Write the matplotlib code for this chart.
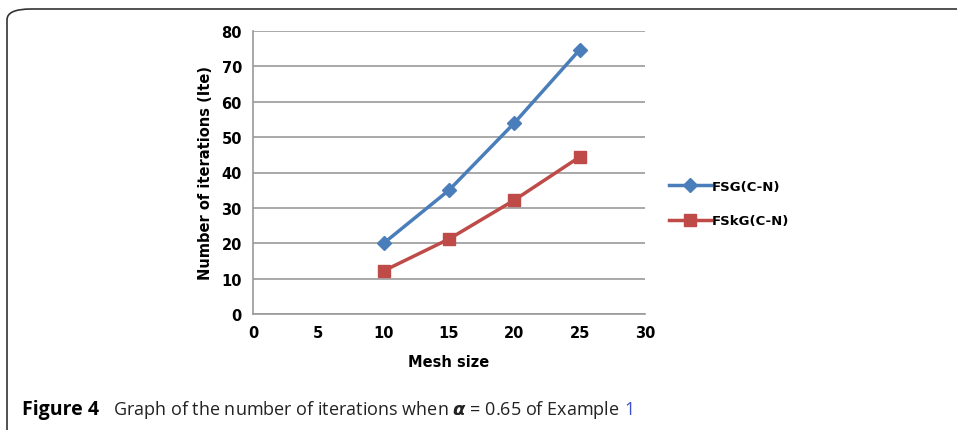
import matplotlib.pyplot as plt
from matplotlib.patches import FancyBboxPatch

# iterations vs mesh size, alpha = 0.65
mesh = [10, 15, 20, 25]
fsg = [20, 35, 54, 74.7]
fskg = [12.2, 21.2, 32.2, 44.4]
xticks = [0, 5, 10, 15, 20, 25, 30]
yticks = [0, 10, 20, 30, 40, 50, 60, 70, 80]

fig = plt.figure(figsize=(9.57, 4.31), dpi=100)

# rounded frame around the figure panel
frame = FancyBboxPatch((7 / 957, -20 / 431), 1.2, (421 + 20) / 431,
                       boxstyle="round,pad=0,rounding_size=0.025",
                       transform=fig.transFigure, fill=False,
                       edgecolor="#333333", linewidth=1.2, clip_on=False)
fig.patches.append(frame)

ax = fig.add_axes([253 / 957, 1 - 315 / 431, (645 - 253) / 957, (315 - 32) / 431])
ax.plot(mesh, fsg, color="#4a7ebb", lw=2.5, marker="D", ms=7,
        mec="#4a7ebb", label="FSG(C-N)", zorder=3)
ax.plot(mesh, fskg, color="#be4b48", lw=2.5, marker="s", ms=9,
        mec="#be4b48", label="FSkG(C-N)", zorder=3)

ax.set_xlim(0, 30)
ax.set_ylim(0, 80)
ax.set_xticks(xticks)
ax.set_yticks(yticks)
ax.tick_params(length=0, pad=8, labelsize=10.5)
for lab in ax.get_xticklabels() + ax.get_yticklabels():
    lab.set_fontweight("bold")
ax.grid(axis="y", color="#999999", lw=1.2)
ax.set_axisbelow(True)
for s in ["top", "right"]:
    ax.spines[s].set_visible(False)
for s in ["left", "bottom"]:
    ax.spines[s].set_color("#999999")
    ax.spines[s].set_linewidth(1.2)

ax.set_xlabel("Mesh size", fontsize=10.5, fontweight="bold", labelpad=10)
ax.set_ylabel("Number of iterations (Ite)", fontsize=10.5, fontweight="bold", labelpad=6)

leg = ax.legend(loc="center left", bbox_to_anchor=(1.03, 0.39), frameon=False,
                prop={"size": 9.5, "weight": "bold"}, handlelength=3.2,
                labelspacing=1.6, handletextpad=0.1)

cap_y = 1 - 410 / 431
fig.text(22 / 957, cap_y, "Figure 4", fontsize=14, fontweight="bold",
         family="Open Sans", va="center")
cap = fig.text(113 / 957, cap_y,
               r"Graph of the number of iterations when $\boldsymbol{\alpha}$ = 0.65 of Example",
               fontsize=13, family="Open Sans", va="center", color="#222222")
fig.canvas.draw()
bb = cap.get_window_extent()
fig.text(bb.x1 / fig.bbox.width + 5 / 957, cap_y, "1", fontsize=13,
         family="Open Sans", va="center", color="#3b4fd0")

fig.savefig("out.png", dpi=100)
